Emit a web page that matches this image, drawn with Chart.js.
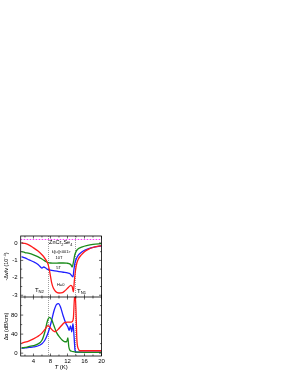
<!DOCTYPE html>
<html>
<head>
<meta charset="utf-8">
<script src="https://cdn.jsdelivr.net/npm/chart.js@4.4.0/dist/chart.umd.min.js"></script>
<style>
  html, body { margin: 0; padding: 0; background: #fff; }
  canvas { display: block; }
</style>
</head>
<body>
<canvas id="chart" width="291" height="376"></canvas>
<script>
// ---- sound velocity, -dv/v (10^-4), top panel ----
const tRedV = [1.2, 2, 3, 4, 5, 6, 6.5, 7, 7.4, 7.7, 8, 8.3, 8.7, 9.2, 10, 10.8, 11.5, 12.2, 12.8, 13.1, 13.4, 13.6, 13.9, 14.2, 14.6, 15.2, 16, 17, 18, 19, 20];
const redV  = [0.0, -0.03, -0.12, -0.28, -0.45, -0.68, -0.82, -1.0, -1.2, -1.5, -1.9, -2.3, -2.6, -2.78, -2.87, -2.85, -2.72, -2.55, -2.43, -2.5, -2.8, -2.2, -1.55, -1.15, -0.9, -0.7, -0.5, -0.35, -0.26, -0.2, -0.16];

const tGreenV = [1.2, 2, 3, 4, 5, 6, 6.5, 7, 7.5, 8, 9, 10, 11, 11.8, 12.4, 12.8, 13.1, 13.4, 13.7, 14.1, 14.6, 15.5, 16.5, 18, 20];
const greenV  = [-0.5, -0.55, -0.6, -0.68, -0.78, -0.92, -1.0, -1.08, -1.13, -1.15, -1.16, -1.15, -1.15, -1.16, -1.18, -1.25, -1.38, -1.1, -0.7, -0.45, -0.32, -0.22, -0.15, -0.08, -0.04];

const tBlueV = [1.2, 2, 3, 4, 5, 5.6, 6.0, 6.4, 6.8, 7.2, 8, 9, 10, 11, 12, 12.6, 13.0, 13.3, 13.5, 13.8, 14.2, 14.6, 15.2, 16, 17, 18, 20];
const blueV  = [-0.78, -0.86, -0.97, -1.08, -1.22, -1.36, -1.44, -1.38, -1.42, -1.5, -1.56, -1.6, -1.64, -1.68, -1.72, -1.76, -1.88, -1.95, -1.55, -1.1, -0.85, -0.68, -0.55, -0.42, -0.32, -0.25, -0.17];

const tRef = [1, 20];
const refV = [0.2, 0.2];

// ---- attenuation, da (dB/cm), bottom panel ----
const tRedA = [1.2, 2, 3, 4, 5, 6, 6.8, 7.4, 8, 8.6, 9.1, 9.8, 10.5, 11.3, 12, 12.6, 13.1, 13.4, 13.6, 13.8, 14.0, 14.2, 14.5, 15, 16, 18, 20];
const redA  = [21, 23, 26, 30, 35, 42, 51, 58, 53, 47, 45, 50, 57, 64, 65, 65, 66, 75, 110, 125, 90, 30, 10, 5, 5, 5, 5];

const tGreenA = [1.2, 2, 3, 4, 5, 6, 6.7, 7.3, 7.8, 8.3, 8.8, 9.5, 10.2, 10.8, 11.4, 11.8, 12.1, 12.3, 12.6, 13, 13.5, 14, 15, 17, 20];
const greenA  = [11, 12, 14, 16, 19, 27, 45, 68, 75, 70, 58, 42, 33, 27, 24, 24, 32, 14, 6, 4, 3, 2, 2, 1.5, 1.5];

const tBlueA = [1.2, 2, 3, 4, 5, 6, 6.6, 7.1, 7.6, 8.2, 8.8, 9.4, 9.9, 10.4, 11, 11.6, 12.1, 12.4, 12.7, 13.0, 13.3, 13.55, 13.8, 14.2, 15, 17, 20];
const blueA  = [10, 11, 12, 13, 15, 20, 26, 35, 47, 66, 88, 102, 104, 96, 78, 63, 55, 48, 57, 45, 62, 35, 5, 2, 2, 2, 2];

// transition temperatures (dotted lines)
const transitionsT = [7.4, 13.8];

const RED = "#ff1a1a", GREEN = "#1a8c1a", BLUE = "#1f1fff";
const FONT = "'Liberation Sans', Arial, sans-serif";

function pts(ts, vs) {
  return ts.map((t, i) => ({ x: t, y: vs[i] }));
}

function line(label, ts, vs, color, axis) {
  return {
    label: label,
    data: pts(ts, vs),
    borderColor: color,
    borderWidth: 1.3,
    pointRadius: 0,
    cubicInterpolationMode: "monotone",
    yAxisID: axis
  };
}

// draw text made of normal / subscript pieces, centred on x
function richText(ctx, parts, x, y, size) {
  const widths = parts.map(p => {
    ctx.font = (p[1] === "it" ? "italic " : "") + (p[1] === "sub" ? size * 0.7 : size) + "px " + FONT;
    return ctx.measureText(p[0]).width;
  });
  let cx = x - widths.reduce((a, b) => a + b, 0) / 2;
  parts.forEach((p, i) => {
    const sub = p[1] === "sub";
    ctx.font = (p[1] === "it" ? "italic " : "") + (sub ? size * 0.7 : size) + "px " + FONT;
    ctx.fillText(p[0], cx, sub ? y + size * 0.3 : y);
    cx += widths[i];
  });
}

const framePlugin = {
  id: "frame",
  beforeDatasetsDraw(chart) {
    const ctx = chart.ctx, ca = chart.chartArea, x = chart.scales.x;
    ctx.save();
    ctx.strokeStyle = "#888";
    ctx.lineWidth = 0.8;
    ctx.setLineDash([1, 1]);
    transitionsT.forEach(t => {
      const px = Math.round(x.getPixelForValue(t)) + 0.5;
      ctx.beginPath();
      ctx.moveTo(px, ca.top);
      ctx.lineTo(px, ca.bottom);
      ctx.stroke();
    });
    ctx.restore();
  },
  afterDraw(chart) {
    const ctx = chart.ctx, ca = chart.chartArea;
    const x = chart.scales.x, yT = chart.scales.yTop, yB = chart.scales.yBot;
    ctx.save();
    ctx.strokeStyle = "#000";
    ctx.lineWidth = 0.8;
    ctx.strokeRect(ca.left, ca.top, ca.right - ca.left, ca.bottom - ca.top);
    ctx.beginPath();
    ctx.moveTo(ca.left, yT.bottom);
    ctx.lineTo(ca.right, yT.bottom);
    ctx.stroke();

    // inward ticks
    ctx.lineWidth = 0.6;
    ctx.beginPath();
    for (let t = 2; t <= 20; t += 2) {
      const px = x.getPixelForValue(t);
      const len = t % 4 === 0 ? 2.5 : 1.5;
      [ca.top, yT.bottom, ca.bottom].forEach((yy, k) => {
        if (k !== 0) { ctx.moveTo(px, yy); ctx.lineTo(px, yy - len); }
        if (k !== 2) { ctx.moveTo(px, yy); ctx.lineTo(px, yy + len); }
      });
    }
    for (let v = -3; v <= 0; v += 0.5) {
      const py = yT.getPixelForValue(v);
      const len = Number.isInteger(v) ? 2.5 : 1.5;
      ctx.moveTo(ca.left, py); ctx.lineTo(ca.left + len, py);
      ctx.moveTo(ca.right, py); ctx.lineTo(ca.right - len, py);
    }
    for (let v = 0; v <= 100; v += 20) {
      const py = yB.getPixelForValue(v);
      const len = v % 40 === 0 ? 2.5 : 1.5;
      ctx.moveTo(ca.left, py); ctx.lineTo(ca.left + len, py);
      ctx.moveTo(ca.right, py); ctx.lineTo(ca.right - len, py);
    }
    ctx.stroke();

    // annotations
    ctx.fillStyle = "#000";
    ctx.textBaseline = "middle";
    ctx.textAlign = "left";
    const at = (t, v) => [x.getPixelForValue(t), yT.getPixelForValue(v)];
    let p = at(10.4, 0.0);
    richText(ctx, [["ZnCr", "n"], ["2", "sub"], ["Se", "n"], ["4", "sub"]], p[0], p[1], 5.5);
    p = at(10.5, -0.5);
    richText(ctx, [["k||u||<001>", "n"]], p[0], p[1], 3.8);
    p = at(10.0, -0.85);
    richText(ctx, [["10T", "n"]], p[0], p[1], 4);
    p = at(9.9, -1.42);
    richText(ctx, [["5T", "n"]], p[0], p[1], 4);
    p = at(10.4, -2.4);
    richText(ctx, [["H=0", "n"]], p[0], p[1], 4);
    p = at(5.4, -2.72);
    richText(ctx, [["T", "n"], ["N2", "sub"]], p[0], p[1], 6);
    p = at(15.3, -2.75);
    richText(ctx, [["T", "n"], ["N1", "sub"]], p[0], p[1], 6);

    // x axis title
    richText(ctx, [["T", "it"], [" (K)", "n"]], (ca.left + ca.right) / 2, 367, 6);
    ctx.restore();
  }
};

const tickFont = { family: FONT, size: 6 };

new Chart(document.getElementById("chart"), {
  type: "line",
  data: {
    datasets: [
      line("H=0", tRedV, redV, RED, "yTop"),
      line("10T", tGreenV, greenV, GREEN, "yTop"),
      line("5T", tBlueV, blueV, BLUE, "yTop"),
      {
        label: "ref",
        data: pts(tRef, refV),
        borderColor: "#ff33ff",
        borderWidth: 1,
        borderDash: [1.5, 1.5],
        pointRadius: 0,
        yAxisID: "yTop"
      },
      line("H=0 att", tRedA, redA, RED, "yBot"),
      line("10T att", tGreenA, greenA, GREEN, "yBot"),
      line("5T att", tBlueA, blueA, BLUE, "yBot")
    ]
  },
  options: {
    responsive: false,
    animation: false,
    devicePixelRatio: 1,
    layout: { padding: { left: 2, top: 236, right: 189.5, bottom: 4 } },
    plugins: { legend: { display: false }, tooltip: { enabled: false } },
    scales: {
      x: {
        type: "linear",
        min: 1,
        max: 20,
        grid: { display: false, drawTicks: false },
        border: { display: false },
        ticks: {
          stepSize: 2,
          includeBounds: false,
          autoSkip: false,
          maxRotation: 0,
          padding: 2,
          color: "#000",
          font: tickFont,
          callback: v => (v % 4 === 0 ? v : "")
        },
        afterFit: s => { s.height = 16; }
      },
      yBot: {
        type: "linear",
        position: "left",
        stack: "panels",
        stackWeight: 59,
        min: -6,
        max: 118,
        grid: { display: false, drawTicks: false },
        border: { display: false },
        ticks: { stepSize: 40, includeBounds: false, padding: 3, color: "#000", font: tickFont },
        title: { display: true, text: "\u0394\u03B1 (dB/cm)", color: "#000", font: { family: FONT, size: 5.5 }, padding: { top: 1, bottom: 0 } },
        afterFit: s => { s.width = 18.7; }
      },
      yTop: {
        type: "linear",
        position: "left",
        stack: "panels",
        stackWeight: 61,
        min: -3.1,
        max: 0.4,
        grid: { display: false, drawTicks: false },
        border: { display: false },
        ticks: { stepSize: 1, includeBounds: false, padding: 3, color: "#000", font: tickFont },
        title: { display: true, text: "-\u0394v/v (10\u207B\u2074)", color: "#000", font: { family: FONT, size: 5.5 }, padding: { top: 1, bottom: 0 } },
        afterFit: s => { s.width = 18.7; }
      }
    }
  },
  plugins: [framePlugin]
});
</script>
</body>
</html>
